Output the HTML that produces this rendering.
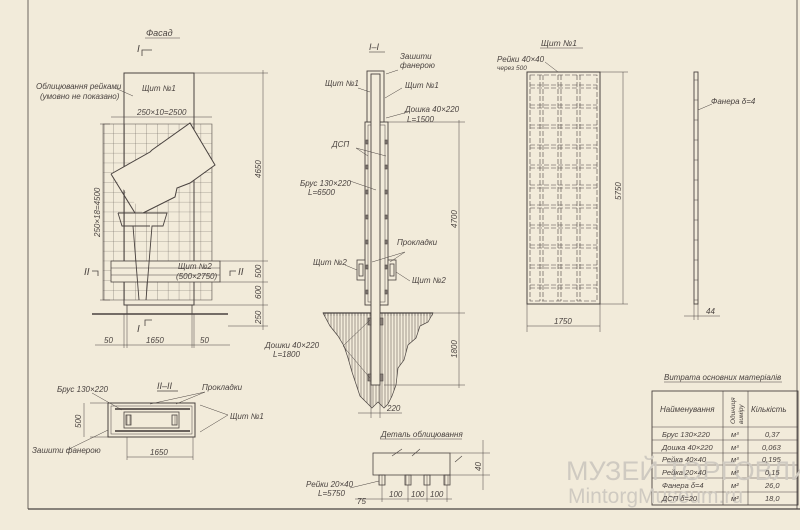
<!DOCTYPE html>
<html><head><meta charset="utf-8"><style>
html,body{margin:0;padding:0;background:#f2ebda;}
svg{display:block}
text{font-family:"Liberation Sans",sans-serif;font-style:italic;fill:#4a4340}
</style></head><body>
<svg width="800" height="530" viewBox="0 0 800 530" xmlns="http://www.w3.org/2000/svg" font-size="8">
<defs>
<pattern id="vh" width="3" height="10" patternUnits="userSpaceOnUse"><line x1="1" y1="0" x2="1" y2="10" stroke="#6a625c" stroke-width="0.6"/></pattern>
<pattern id="grid" x="103" y="124" width="10.9" height="9.8" patternUnits="userSpaceOnUse"><path d="M10.9 0V9.8M0 9.8H10.9" stroke="#6a625c" stroke-width="0.6" fill="none"/></pattern>
</defs>
<rect width="800" height="530" fill="#f2ebda"/>
<g stroke="#4a4340" stroke-width="0.8" fill="none">
<line x1="28" y1="0" x2="28" y2="509"/>
<line x1="28" y1="509" x2="800" y2="509" stroke-width="1.2"/>
<line x1="797" y1="0" x2="797" y2="509"/>

<rect x="103" y="124" width="109" height="176" fill="url(#grid)" stroke="#6a625c" stroke-width="0.6"/>
<rect x="124" y="73" width="70" height="232" stroke-width="1"/>
<rect x="111" y="261" width="109" height="21" fill="#f2ebda"/>
<line x1="111" y1="268" x2="220" y2="268" stroke-width="0.5"/><line x1="111" y1="275" x2="220" y2="275" stroke-width="0.5"/>
<rect x="127" y="305" width="65" height="9"/>
<line x1="92" y1="314" x2="228" y2="314" stroke-width="1.4"/>
<path d="M111 174 L150 152 L152 150 L190 123 L215 165 L190 183 L177 188 L175 197 L143 213 M111 174 L135 213" stroke-width="1" fill="#f2ebda"/>
<path d="M118 213 L167 213 L163 226 L152 226 L146 300 M118 213 L122 226 L133 226 L139 300 M133 226 L150 226" stroke-width="0.9"/>
<path d="M142 56 V50 H152 M145 326 V320 H152 M92 271 H98 V276 M236 271 H230 V276"/>
<line x1="194" y1="73" x2="268" y2="73" stroke-width="0.5"/>
<line x1="220" y1="261" x2="268" y2="261" stroke-width="0.5"/>
<line x1="220" y1="282" x2="268" y2="282" stroke-width="0.5"/>
<line x1="194" y1="305" x2="268" y2="305" stroke-width="0.5"/>
<line x1="228" y1="326" x2="268" y2="326" stroke-width="0.5"/>
<line x1="263" y1="70" x2="263" y2="330" stroke-width="0.5"/>
<line x1="104" y1="124" x2="104" y2="300" stroke-width="0.5"/>
<line x1="100" y1="124" x2="110" y2="124" stroke-width="0.5"/>
<line x1="100" y1="300" x2="110" y2="300" stroke-width="0.5"/>
<line x1="111" y1="117" x2="212" y2="117" stroke-width="0.5"/>
<line x1="95" y1="345" x2="230" y2="345" stroke-width="0.5"/>
<line x1="124" y1="314" x2="124" y2="348" stroke-width="0.5"/><line x1="127" y1="314" x2="127" y2="348" stroke-width="0.5"/>
<line x1="192" y1="314" x2="192" y2="348" stroke-width="0.5"/><line x1="194" y1="314" x2="194" y2="348" stroke-width="0.5"/>
<line x1="115" y1="88" x2="133" y2="96" stroke-width="0.5"/>

<rect x="323" y="313" width="110" height="3" fill="url(#vh)" stroke="none"/>
<path d="M323 313 L433 313 L428 322 L420 326 L416 338 L408 345 L404 360 L398 368 L396 385 L392 396 L388 404 L384 408 L378 402 L372 408 L366 402 L360 396 L356 384 L352 372 L348 358 L344 346 L338 336 L330 326 Z" fill="url(#vh)" stroke-width="0.7"/>
<line x1="323" y1="313" x2="433" y2="313" stroke-width="1.2"/>
<rect x="365" y="122" width="23" height="183" fill="#f2ebda" stroke-width="0.9"/>
<rect x="368" y="125" width="17" height="177" stroke-width="0.5"/>
<rect x="367" y="71" width="17" height="51" fill="#f2ebda" stroke-width="0.9"/>
<rect x="371" y="74" width="9" height="311" fill="#f2ebda" stroke-width="0.9"/>
<g stroke-width="0.6" fill="#8a817a">
<rect x="366" y="140" width="2" height="4"/><rect x="366" y="165" width="2" height="4"/><rect x="366" y="190" width="2" height="4"/><rect x="366" y="215" width="2" height="4"/><rect x="366" y="240" width="2" height="4"/><rect x="366" y="265" width="2" height="4"/><rect x="366" y="290" width="2" height="4"/>
<rect x="385" y="140" width="2" height="4"/><rect x="385" y="165" width="2" height="4"/><rect x="385" y="190" width="2" height="4"/><rect x="385" y="215" width="2" height="4"/><rect x="385" y="240" width="2" height="4"/><rect x="385" y="265" width="2" height="4"/><rect x="385" y="290" width="2" height="4"/>
<rect x="368" y="318" width="3" height="7"/><rect x="380" y="318" width="3" height="7"/>
<rect x="368" y="374" width="3" height="7"/><rect x="380" y="374" width="3" height="7"/>
</g>
<rect x="357" y="260" width="8" height="20" fill="#f2ebda"/><rect x="359" y="264" width="4" height="12"/>
<rect x="388" y="260" width="8" height="20" fill="#f2ebda"/><rect x="390" y="264" width="4" height="12"/>
<line x1="388" y1="122" x2="465" y2="122" stroke-width="0.5"/>
<line x1="433" y1="313" x2="465" y2="313" stroke-width="0.5"/>
<line x1="384" y1="385" x2="465" y2="385" stroke-width="0.5"/>
<line x1="459" y1="120" x2="459" y2="388" stroke-width="0.5"/>
<line x1="371" y1="385" x2="371" y2="418" stroke-width="0.5"/><line x1="380" y1="385" x2="380" y2="418" stroke-width="0.5"/>
<line x1="358" y1="413" x2="402" y2="413" stroke-width="0.5"/>
<path d="M398 70 L386 74 M358 88 L370 92 M402 88 L385 98 M408 112 L386 118 M356 148 L368 156 M356 148 L386 156 M350 181 L376 190 M405 252 L372 262 M405 252 L390 262 M345 265 L357 270 M410 281 L396 272 M343 346 L370 320 M343 346 L370 378" stroke-width="0.5"/>

<rect x="527" y="72" width="73" height="232" stroke-width="1"/>
<g stroke-dasharray="5,2" stroke-width="0.6">
<rect x="530" y="75" width="67" height="226"/>
<line x1="540" y1="75" x2="540" y2="301"/><line x1="543" y1="75" x2="543" y2="301"/>
<line x1="558" y1="75" x2="558" y2="301"/><line x1="561" y1="75" x2="561" y2="301"/>
<line x1="577" y1="75" x2="577" y2="301"/><line x1="580" y1="75" x2="580" y2="301"/>
<path d="M530 85H597M530 88H597M530 105H597M530 108H597M530 125H597M530 128H597M530 145H597M530 148H597M530 165H597M530 168H597M530 185H597M530 188H597M530 205H597M530 208H597M530 225H597M530 228H597M530 245H597M530 248H597M530 265H597M530 268H597M530 285H597M530 288H597"/>
</g>
<rect x="694" y="72" width="4" height="232" stroke-width="0.9"/>
<path d="M694 80H698M694 100H698M694 120H698M694 140H698M694 160H698M694 180H698M694 200H698M694 220H698M694 240H698M694 260H698M694 280H698M694 300H698" stroke-width="0.6"/>
<line x1="600" y1="72" x2="628" y2="72" stroke-width="0.5"/><line x1="600" y1="304" x2="628" y2="304" stroke-width="0.5"/>
<line x1="623" y1="72" x2="623" y2="304" stroke-width="0.5"/>
<line x1="527" y1="304" x2="527" y2="332" stroke-width="0.5"/><line x1="600" y1="304" x2="600" y2="332" stroke-width="0.5"/>
<line x1="527" y1="326" x2="600" y2="326" stroke-width="0.5"/>
<line x1="694" y1="304" x2="694" y2="320" stroke-width="0.5"/><line x1="698" y1="304" x2="698" y2="320" stroke-width="0.5"/>
<line x1="684" y1="316" x2="720" y2="316" stroke-width="0.5"/>
<line x1="698" y1="110" x2="712" y2="104" stroke-width="0.5"/>
<line x1="545" y1="62" x2="558" y2="72" stroke-width="0.5"/>

<rect x="108" y="403" width="87" height="34" stroke-width="1"/>
<rect x="111" y="406" width="81" height="28" stroke-width="0.5"/>
<rect x="124" y="412" width="55" height="16" stroke-width="0.8"/>
<line x1="115" y1="409" x2="190" y2="409" stroke-width="2" stroke="#6a625c"/>
<line x1="115" y1="431" x2="190" y2="431" stroke-width="2" stroke="#6a625c"/>
<rect x="126" y="415" width="5" height="10" fill="url(#vh)"/><rect x="172" y="415" width="5" height="10" fill="url(#vh)"/>
<line x1="90" y1="403" x2="108" y2="403" stroke-width="0.5"/><line x1="90" y1="437" x2="108" y2="437" stroke-width="0.5"/>
<line x1="84" y1="403" x2="84" y2="437" stroke-width="0.5"/>
<line x1="127" y1="437" x2="127" y2="460" stroke-width="0.5"/><line x1="193" y1="437" x2="193" y2="460" stroke-width="0.5"/>
<line x1="127" y1="457" x2="193" y2="457" stroke-width="0.5"/>
<path d="M92 393 L122 410 M205 392 L176 404 M205 392 L150 404 M228 415 L200 405 M228 415 L200 432 M67 450 L108 430" stroke-width="0.5"/>

<rect x="373" y="453" width="77" height="22"/>
<g fill="url(#vh)"><rect x="379" y="475" width="6" height="10"/><rect x="405" y="475" width="6" height="10"/><rect x="424" y="475" width="6" height="10"/><rect x="444" y="475" width="6" height="10"/></g>
<path d="M392 456 L402 449 M412 456 L420 449 M455 462 L462 456" stroke-width="0.6"/>
<line x1="450" y1="453" x2="490" y2="453" stroke-width="0.5"/><line x1="450" y1="475" x2="490" y2="475" stroke-width="0.5"/>
<line x1="483" y1="440" x2="483" y2="490" stroke-width="0.5"/>
<line x1="355" y1="499" x2="452" y2="499" stroke-width="0.5"/>
<path d="M382 485V502M408 485V502M427 485V502M447 485V502" stroke-width="0.5"/>
<line x1="350" y1="488" x2="379" y2="481" stroke-width="0.5"/>

<rect x="652" y="391" width="146" height="114" stroke-width="0.9"/>
<path d="M652 427H798M652 440H798M652 453H798M652 465H798M652 478H798M652 492H798M723 391V505M748 391V505" stroke-width="0.6"/>
<line x1="664" y1="382" x2="782" y2="382" stroke-width="0.5"/>
<line x1="145" y1="38" x2="180" y2="38" stroke-width="0.6"/>
<line x1="369" y1="52" x2="385" y2="52" stroke-width="0.6"/>
<line x1="540" y1="48" x2="583" y2="48" stroke-width="0.6"/>
<line x1="157" y1="391" x2="178" y2="391" stroke-width="0.8"/>
<line x1="380" y1="439" x2="462" y2="439" stroke-width="0.6"/>
</g>

<text x="566" y="480" font-size="27" style="font-style:normal;fill:#cfcac1">МУЗЕЙ ТОРГОВЛИ</text>
<text x="568" y="503" font-size="21" style="font-style:normal;fill:#cfcac1">MintorgMuseum.ru</text>

<text x="146" y="36" font-size="9">Фасад</text>
<text x="137" y="52" font-size="10">I</text>
<text x="137" y="332" font-size="10">I</text>
<text x="84" y="275" font-size="10">II</text>
<text x="238" y="275" font-size="10">II</text>
<text x="36" y="89">Облицювання рейками</text>
<text x="40" y="99">(умовно не показано)</text>
<text x="142" y="91">Щит №1</text>
<text x="137" y="115">250×10=2500</text>
<text x="178" y="269">Щит №2</text>
<text x="176" y="279">(500×2750)</text>
<text transform="translate(100,237) rotate(-90)">250×18=4500</text>
<text transform="translate(261,178) rotate(-90)">4650</text>
<text transform="translate(261,278) rotate(-90)">500</text>
<text transform="translate(261,299) rotate(-90)">600</text>
<text transform="translate(261,324) rotate(-90)">250</text>
<text x="104" y="343">50</text><text x="146" y="343">1650</text><text x="200" y="343">50</text>

<text x="369" y="50" font-size="9">I–I</text>
<text x="400" y="59">Зашити</text><text x="400" y="68">фанерою</text>
<text x="325" y="86">Щит №1</text>
<text x="405" y="88">Щит №1</text>
<text x="405" y="112">Дошка 40×220</text>
<text x="407" y="122">L=1500</text>
<text x="332" y="147">ДСП</text>
<text x="300" y="186">Брус 130×220</text>
<text x="308" y="195">L=6500</text>
<text x="397" y="245">Прокладки</text>
<text x="313" y="265">Щит №2</text>
<text x="412" y="283">Щит №2</text>
<text transform="translate(457,228) rotate(-90)">4700</text>
<text transform="translate(457,358) rotate(-90)">1800</text>
<text x="265" y="348">Дошки 40×220</text>
<text x="273" y="357">L=1800</text>
<text x="387" y="411">220</text>

<text x="541" y="46" font-size="8.5">Щит №1</text>
<text x="497" y="62">Рейки 40×40</text>
<text x="497" y="70" font-size="6.5">через 500</text>
<text transform="translate(621,200) rotate(-90)">5750</text>
<text x="554" y="324">1750</text>
<text x="711" y="104">Фанера δ=4</text>
<text x="706" y="314">44</text>

<text x="157" y="389" font-size="9">II–II</text>
<text x="57" y="392">Брус 130×220</text>
<text x="202" y="390">Прокладки</text>
<text x="230" y="419">Щит №1</text>
<text transform="translate(81,428) rotate(-90)">500</text>
<text x="32" y="453">Зашити фанерою</text>
<text x="150" y="455">1650</text>

<text x="381" y="437">Деталь облицювання</text>
<text transform="translate(481,471) rotate(-90)">40</text>
<text x="306" y="487">Рейки 20×40</text>
<text x="318" y="496">L=5750</text>
<text x="357" y="504">75</text>
<text x="389" y="497">100</text><text x="411" y="497">100</text><text x="430" y="497">100</text>

<text x="664" y="380">Витрата основних матеріалів</text>
<text x="660" y="412">Найменування</text>
<text transform="translate(735,424) rotate(-90)" font-size="6.5">Одиниця</text>
<text transform="translate(743,424) rotate(-90)" font-size="6.5">виміру</text>
<text x="751" y="412">Кількість</text>
<g font-size="7.5">
<text x="662" y="437">Брус 130×220</text><text x="731" y="437">м³</text><text x="765" y="437">0,37</text>
<text x="662" y="450">Дошка 40×220</text><text x="731" y="450">м³</text><text x="762" y="450">0,063</text>
<text x="662" y="462">Рейка 40×40</text><text x="731" y="462">м³</text><text x="762" y="462">0,195</text>
<text x="662" y="475">Рейка 20×40</text><text x="731" y="475">м³</text><text x="765" y="475">0,15</text>
<text x="662" y="488">Фанера δ=4</text><text x="731" y="488">м²</text><text x="765" y="488">26,0</text>
<text x="662" y="501">ДСП δ=20</text><text x="731" y="501">м²</text><text x="765" y="501">18,0</text>
</g>
</svg>
</body></html>
